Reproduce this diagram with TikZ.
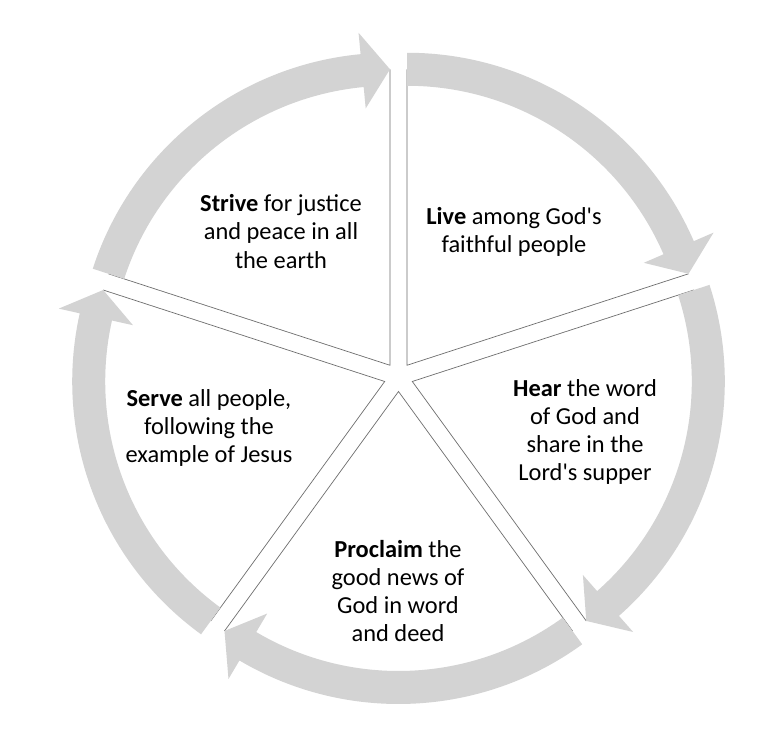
\documentclass[tikz,border=0pt]{standalone}
\usepackage{fontspec}
\setmainfont{Carlito}
\usetikzlibrary{calc}
\definecolor{bandgray}{RGB}{211,211,211}
\definecolor{edgegray}{RGB}{110,110,110}
\begin{document}
\begin{tikzpicture}[x=1pt,y=1pt,
  band/.style={fill=bandgray},
  edge/.style={draw=edgegray, line width=0.7pt},
  lbl/.style={align=center, font=\fontsize{24.4}{28.3}\selectfont, inner sep=0pt, text=black}]
\fill[white] (0,0) rectangle (781,734);
\useasboundingbox (0,0) rectangle (781,734);
\coordinate (C) at (398.5,357);
\foreach \t [count=\i] in {126,54,-18,-90,198}{
  \pgfmathsetmacro\s{\t+36}
  \pgfmathsetmacro\e{\t-36}
  \pgfmathsetmacro\b{\t-36+5.4}
  \coordinate (A\i) at ($(C)+(\t:14.5)$);
  \draw[edge] ($(A\i)+(\s:296)$) -- (A\i) -- ($(A\i)+(\e:296)$);
  \fill[band] ($(A\i)+(\s:312.5)$) arc[start angle=\s, end angle=\b, radius=312.5pt]
     -- ($(A\i)+(\b:334)$) -- ($(A\i)+(\e:296)$) -- ($(A\i)+(\b:258)$)
     -- ($(A\i)+(\b:279.5)$) arc[start angle=\b, end angle=\s, radius=279.5pt] -- cycle;
}
\node[lbl] (strive) at (281,502.5) {\textbf{Strive} for justice\\and peace in all\\the earth};
\node[lbl] (live) at (514,502) {\textbf{Live} among God\textquotesingle s\\faithful people};
\node[lbl] (hear) at (585,302) {\textbf{Hear} the word\\of God and\\share in the\\Lord\textquotesingle s supper};
\node[lbl] (proclaim) at (398,143) {\textbf{Proclaim} the\\good news of\\God in word\\and deed};
\node[lbl] (serve) at (209,306) {\textbf{Serve} all people,\\following the\\example of Jesus};
\end{tikzpicture}
\end{document}
